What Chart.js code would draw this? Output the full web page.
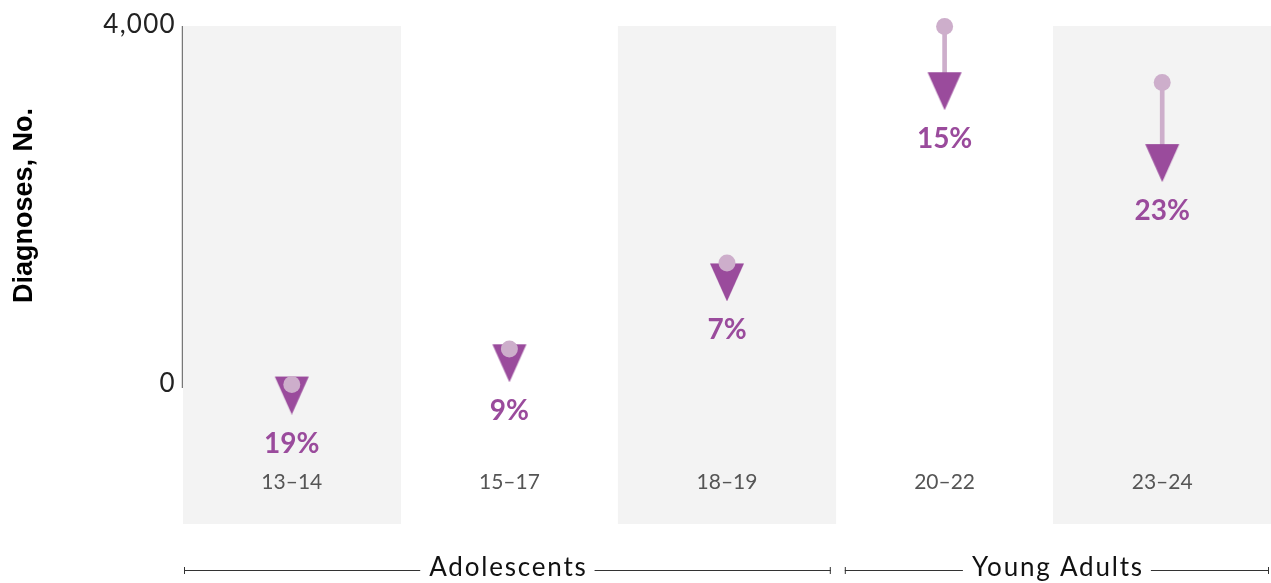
<!DOCTYPE html>
<html lang="en">
<head>
<meta charset="UTF-8">
<title>Diagnoses by age group</title>
<script src="https://cdn.jsdelivr.net/npm/chart.js@4.4.0/dist/chart.umd.min.js"></script>
<style>
  html, body { margin: 0; padding: 0; background: #fff; overflow: hidden; }
  canvas { display: block; }
</style>
</head>
<body>
<canvas id="chart" width="1271" height="583"></canvas>
<script>
// values
const ageGroups = ['13–14', '15–17', '18–19', '20–22', '23–24'];
const startValues = [5, 400, 1360, 3995, 3370];
const endValues = [4, 364, 1265, 3396, 2595];
const pctLabels = ['19%', '9%', '7%', '15%', '23%'];
const shaded = [true, false, true, false, true];
const yTicks = [0, 4000];
const groups = [
  { label: 'Adolescents', from: 0, to: 2 },
  { label: 'Young Adults', from: 3, to: 4 }
];
const yMin = -1550, yMax = 4000;

const PURPLE = '#9a4b9c';
const PINK = '#cdaecb';

// arrow head drawn once, used as point style (anchor 8px below its flat top)
function makeArrowHead() {
  const c = document.createElement('canvas');
  c.width = 36; c.height = 60;
  const g = c.getContext('2d');
  g.fillStyle = PURPLE;
  g.beginPath();
  g.moveTo(1, 22);
  g.lineTo(35, 22);
  g.lineTo(18, 60);
  g.closePath();
  g.fill();
  return c;
}

const decorations = {
  id: 'decorations',
  beforeDatasetsDraw(chart) {
    const ctx = chart.ctx;
    const y = chart.scales.y;
    const area = chart.chartArea;
    ctx.save();
    // axis line only from 0 to 4,000
    ctx.strokeStyle = '#777';
    ctx.lineWidth = 1.5;
    ctx.beginPath();
    ctx.moveTo(area.left - 0.5, y.getPixelForValue(yMax));
    ctx.lineTo(area.left - 0.5, y.getPixelForValue(0) + 3);
    ctx.stroke();
    // y tick labels
    ctx.fillStyle = '#222';
    ctx.font = '26px Lato';
    ctx.letterSpacing = '1.3px';
    ctx.textAlign = 'right';
    ctx.textBaseline = 'middle';
    yTicks.forEach(v => {
      ctx.fillText(v.toLocaleString('en-US'), area.left - 7, y.getPixelForValue(v) - 1);
    });
    ctx.restore();
  },
  afterDatasetsDraw(chart) {
    const ctx = chart.ctx;
    const x = chart.scales.x;
    const y = chart.scales.y;
    const area = chart.chartArea;
    const meta = chart.getDatasetMeta(2);

    ctx.save();
    ctx.textAlign = 'center';
    ctx.textBaseline = 'middle';

    // percent labels under the arrow heads
    ctx.fillStyle = PURPLE;
    ctx.font = 'bold 28px Lato';
    pctLabels.forEach((t, i) => {
      ctx.fillText(t, meta.data[i].x, y.getPixelForValue(endValues[i]) + 59);
    });

    // category labels inside the columns
    ctx.fillStyle = '#555';
    ctx.font = '21px Lato';
    ageGroups.forEach((t, i) => {
      ctx.fillText(t, x.getPixelForValue(i), area.bottom - 42);
    });

    // y title, centred on the 0 - 4,000 span
    ctx.fillStyle = '#000';
    ctx.font = 'bold 27px "Liberation Sans"';
    ctx.translate(25, (y.getPixelForValue(0) + y.getPixelForValue(yMax)) / 2);
    ctx.rotate(-Math.PI / 2);
    ctx.fillText('Diagnoses, No.', 0, 0);
    ctx.restore();

    // group brackets
    ctx.save();
    const half = (x.getPixelForValue(1) - x.getPixelForValue(0)) / 2;
    const by = 570;
    ctx.font = '26px Lato';
    ctx.letterSpacing = '1.8px';
    ctx.textAlign = 'center';
    ctx.textBaseline = 'middle';
    ctx.strokeStyle = '#333';
    ctx.fillStyle = '#111';
    ctx.lineWidth = 1;
    groups.forEach((gr, k) => {
      const x1 = x.getPixelForValue(gr.from) - half + (k === 0 ? 1 : 9);
      const x2 = x.getPixelForValue(gr.to) + half - (k === 0 ? 5 : 2);
      const cx = (x1 + x2) / 2;
      const w = ctx.measureText(gr.label).width / 2 + 8;
      ctx.beginPath();
      ctx.moveTo(x1, by + 0.5); ctx.lineTo(cx - w, by + 0.5);
      ctx.moveTo(cx + w, by + 0.5); ctx.lineTo(x2, by + 0.5);
      ctx.moveTo(x1 + 0.5, by - 3); ctx.lineTo(x1 + 0.5, by + 4);
      ctx.moveTo(x2 - 0.5, by - 3); ctx.lineTo(x2 - 0.5, by + 4);
      ctx.stroke();
      ctx.fillText(gr.label, cx + 1, by - 2);
    });
    ctx.restore();
  }
};

const ctx = document.getElementById('chart').getContext('2d');
const chart = new Chart(ctx, {
  type: 'bar',
  data: {
    labels: ageGroups,
    datasets: [
      {
        // dots: starting values
        type: 'line',
        data: startValues,
        showLine: false,
        pointRadius: 8.5,
        pointBackgroundColor: PINK,
        pointBorderWidth: 0,
        clip: false,
        order: 0
      },
      {
        // stems
        type: 'bar',
        data: startValues.map((v, i) => [endValues[i], v]),
        backgroundColor: PINK,
        barThickness: 4,
        grouped: false,
        clip: false,
        order: 2
      },
      {
        // arrow heads: ending values
        type: 'line',
        data: endValues,
        showLine: false,
        pointStyle: makeArrowHead(),
        pointRadius: 10,
        clip: false,
        order: 1
      },
      {
        // shaded columns
        type: 'bar',
        data: shaded.map(s => s ? [yMin, yMax] : null),
        backgroundColor: '#f3f3f3',
        barPercentage: 1,
        categoryPercentage: 1,
        grouped: false,
        order: 3
      }
    ]
  },
  options: {
    responsive: false,
    animation: false,
    layout: { autoPadding: false, padding: { top: 26, bottom: 59, left: 0, right: 0 } },
    plugins: { legend: { display: false }, tooltip: { enabled: false } },
    scales: {
      x: { display: false, offset: true },
      y: {
        min: yMin,
        max: yMax,
        grid: { display: false },
        border: { display: false },
        afterBuildTicks: s => { s.ticks = yTicks.map(v => ({ value: v })); },
        afterFit: s => { s.width = 183; },
        ticks: { display: false }
      }
    }
  },
  plugins: [decorations]
});
</script>
</body>
</html>
